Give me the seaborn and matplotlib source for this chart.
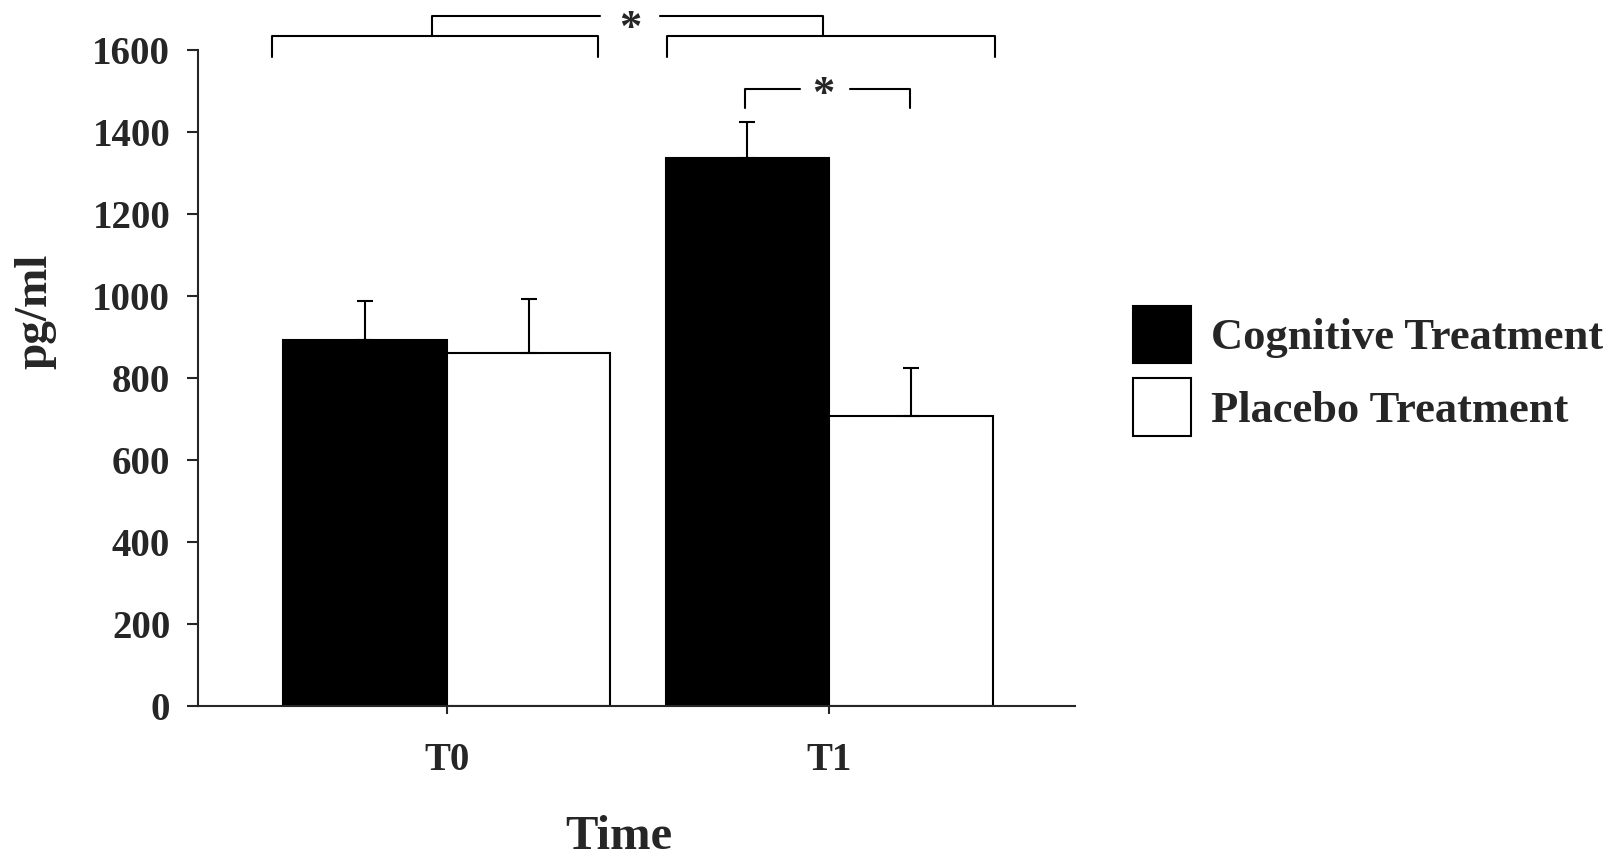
import numpy as np
import pandas as pd
import matplotlib
matplotlib.use('Agg')
import matplotlib.pyplot as plt
import seaborn as sns

# values (pg/ml)
times = ['T0', 'T1']
groups = ['Cognitive Treatment', 'Placebo Treatment']
cognitive = [892, 1336]
placebo = [860, 708]
cognitive_err = [95, 87]
placebo_err = [133, 116]

df = pd.DataFrame({
    'time': times * 2,
    'group': [groups[0]] * 2 + [groups[1]] * 2,
    'value': cognitive + placebo,
})
errs = [cognitive_err, placebo_err]

sns.set_style('ticks')
plt.rcParams['font.family'] = ['Liberation Serif', 'DejaVu Serif']
plt.rcParams['font.weight'] = 'bold'

fig = plt.figure(figsize=(16.17, 8.58), dpi=100)
ax = fig.add_axes([0.1225, 0.177, 0.5425, 0.765])

sns.barplot(data=df, x='time', y='value', hue='group', hue_order=groups,
            palette=['black', 'white'], edgecolor='black', linewidth=1.5,
            width=0.856, gap=0, saturation=1, ax=ax)

# one-sided error bars from the bar tops
for cont, e in zip(ax.containers, errs):
    xs = [p.get_x() + p.get_width() / 2 for p in cont.patches]
    hs = [p.get_height() for p in cont.patches]
    ax.errorbar(xs, hs, yerr=[np.zeros(len(e)), e], fmt='none', ecolor='black',
                elinewidth=1.5, capsize=6, capthick=1.5)

ax.set_xlim(-0.65, 1.643)
ax.set_ylim(0, 1600)
ax.set_yticks(range(0, 1601, 200))
for s in ['top', 'right']:
    ax.spines[s].set_visible(False)
for s in ['left', 'bottom']:
    ax.spines[s].set_linewidth(1.5)
ax.tick_params(axis='y', length=8, width=1.5, pad=12, labelsize=28)
ax.tick_params(axis='x', length=6, width=1.5, pad=20, labelsize=28)

ax.set_xlabel('Time', fontsize=35, fontweight='bold')
ax.set_ylabel('pg/ml', fontsize=34, fontweight='bold')
ax.xaxis.set_label_coords(0.48, -0.166)
ax.yaxis.set_label_coords(-0.161, 0.602)

# significance brackets
kw = dict(color='black', lw=1.5, clip_on=False)
ax.plot([-0.456, -0.456, 0.396, 0.396], [1582, 1633, 1633, 1582], **kw)
ax.plot([0.576, 0.576, 1.434, 1.434], [1582, 1633, 1633, 1582], **kw)
ax.plot([-0.038, -0.038, 0.40], [1633, 1682, 1682], **kw)
ax.plot([0.558, 0.984, 0.984], [1682, 1682, 1633], **kw)
ax.text(0.48, 1625, '*', ha='center', va='baseline', fontsize=32,
        fontweight='bold', clip_on=False)
ax.plot([0.924, 0.78, 0.78], [1504, 1504, 1457], **kw)
ax.plot([1.055, 1.212, 1.212], [1504, 1504, 1457], **kw)
ax.text(0.984, 1463, '*', ha='center', va='baseline', fontsize=32,
        fontweight='bold', clip_on=False)

handles, labels = ax.get_legend_handles_labels()
ax.get_legend().remove()
leg = fig.legend(handles, labels, loc='center left', bbox_to_anchor=(0.687, 0.568),
                 frameon=False, handlelength=1.3, handleheight=1.6,
                 handletextpad=0.45, labelspacing=0.35, borderpad=0,
                 prop={'family': 'Liberation Serif', 'weight': 'bold', 'size': 32})

fig.savefig('out.png', dpi=100)
